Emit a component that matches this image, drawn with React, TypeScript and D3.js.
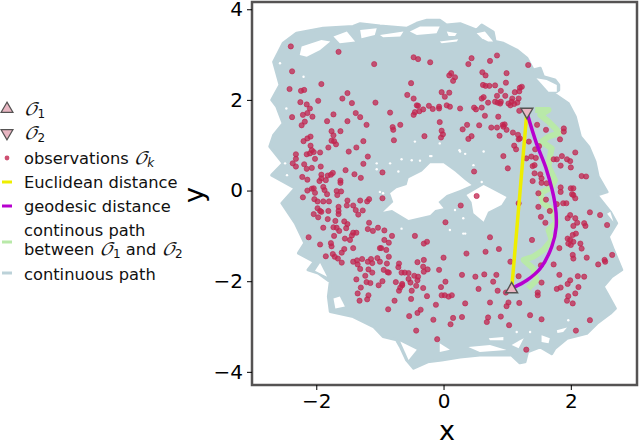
import React, { useRef, useEffect } from "react";
import * as d3 from "d3";

type Pt = [number, number];

const xTicks = [-2, 0, 2];
const yTicks = [-4, -2, 0, 2, 4];

// start and end observation
const o1: Pt = [1.07, -2.18];
const o2: Pt = [1.31, 1.74];

const geodesic: Pt[] = [
  [1.32, 1.67], [1.46, 1.04], [1.62, 0.45], [1.75, -0.28], [1.77, -0.8],
  [1.7, -1.24], [1.52, -1.72], [1.31, -1.98], [1.1, -2.14],
];

const pathBetween: Pt[] = [
  [1.44, 1.78], [1.65, 1.78], [1.52, 1.67], [1.65, 1.52], [1.78, 1.34], [1.81, 1.26],
  [1.65, 1.19], [1.54, 1.08], [1.7, 0.93], [1.67, 0.75], [1.65, 0.53], [1.75, 0.23],
  [1.7, 0.08], [1.52, -0.06], [1.57, -0.28], [1.67, -0.39], [1.78, -0.69], [1.65, -0.87],
  [1.7, -1.09], [1.57, -1.31], [1.41, -1.46], [1.26, -1.53], [1.41, -1.72], [1.46, -1.98],
  [1.33, -2.16],
];

// outer edge of the continuous path, read clockwise
const pathOuter: Pt[] = [
  [-2.52, 3.25], [-2.31, 3.47], [-1.89, 3.58], [-1.42, 3.62], [-1.31, 3.68], [-1, 3.63],
  [-0.58, 3.58], [-0.42, 3.69], [-0.26, 3.76], [-0.06, 3.76], [0.05, 3.65], [0.26, 3.68],
  [0.52, 3.54], [0.6, 3.65], [0.78, 3.5], [0.81, 3.29], [0.94, 3.25], [1.15, 3.1],
  [1.31, 2.92], [1.41, 2.66], [1.52, 2.7], [1.57, 2.51], [1.75, 2.44], [1.81, 2.33],
  [1.81, 2.22], [1.73, 2.14], [1.96, 1.92], [2.07, 1.63], [2.15, 1.19], [2.28, 0.97],
  [2.38, 0.64], [2.43, 0.31], [2.57, -0.03], [2.41, -0.1], [2.62, -0.47], [2.72, -0.72],
  [2.59, -1.02], [2.67, -1.31], [2.8, -1.75], [2.64, -1.9], [2.51, -2.12], [2.57, -2.27],
  [2.7, -2.6], [2.62, -2.71], [2.41, -2.93], [2.25, -3.15], [1.94, -3.26], [1.75, -3.48],
  [1.7, -3.6], [1.52, -3.45], [1.32, -3.56], [1.28, -3.78], [1.2, -3.8], [1.07, -3.63],
  [0.57, -3.63], [0.26, -3.67], [-0.03, -3.74], [-0.25, -3.78], [-0.47, -3.92], [-0.58, -3.74],
  [-0.68, -3.44], [-0.74, -3.29], [-0.95, -3.22], [-1.1, -3], [-1.42, -2.78], [-1.78, -2.67],
  [-1.81, -2.34], [-1.78, -2.01], [-1.97, -1.82], [-2.13, -1.75], [-2.03, -1.57], [-2.28, -1.38],
  [-2.18, -1.16], [-2.33, -0.72], [-2.54, -0.28], [-2.33, 0.05], [-2.7, 0.34], [-2.52, 0.6],
  [-2.73, 0.97], [-2.67, 1.22], [-2.52, 1.48], [-2.62, 1.85], [-2.7, 2], [-2.57, 2.33],
  [-2.67, 2.84],
];

// areas the path never crossed
const pathHoles: Pt[][] = [
  [[-0.55, 0.27], [-0.34, 0.42], [-0.21, 0.6], [0, 0.6], [0.18, 0.42], [0.34, 0.23], [0.44, 0.12],
   [0.26, 0.01], [0.05, -0.1], [-0.08, -0.25], [0, -0.39], [-0.13, -0.43], [-0.21, -0.54],
   [-0.55, -0.65], [-0.81, -0.43], [-0.95, -0.47], [-0.79, -0.25], [-0.84, -0.06], [-0.74, 0.05], [-0.58, 0.12]],
  [[0.36, -0.1], [0.63, 0.12], [0.73, 0.05], [0.99, -0.14], [0.91, -0.32], [0.7, -0.47], [0.63, -0.69], [0.47, -0.5], [0.44, -0.25]],
  [[-2.26, 2.99], [-2.23, 3.18], [-1.92, 3.32], [-1.78, 3.29], [-1.94, 3.1], [-2.15, 2.95]],
  [[-1.73, 3.4], [-1.52, 3.51], [-1.39, 3.29], [-1.63, 3.25]],
  [[-1.31, 3.54], [-1.05, 3.58], [-1.08, 3.43], [-1.29, 3.36]],
  [[-1, 3.43], [-0.63, 3.51], [-0.68, 3.4], [-0.95, 3.38]],
  [[-0.53, 3.51], [-0.37, 3.62], [-0.06, 3.62], [-0.11, 3.47], [-0.42, 3.43]],
  [[0.52, 3.47], [0.65, 3.51], [0.78, 3.29], [0.7, 3.29], [0.6, 3.36]],
  [[0.05, 3.51], [0.21, 3.47], [0.18, 3.41], [0.08, 3.41]],
  [[-0.06, 3.29], [0.23, 3.34], [0.21, 3.29], [-0.03, 3.25]],
  [[1.46, 2.48], [1.62, 2.44], [1.78, 2.33], [1.78, 2.18], [1.65, 2.18]],
  [[0.39, -3.45], [0.73, -3.41], [0.99, -3.52], [0.57, -3.56]],
  [[1.54, -3.19], [1.67, -3.26], [1.65, -3.37], [1.54, -3.34]],
  [[1.78, -3.08], [1.94, -3.02], [1.88, -3.12], [1.79, -3.14]],
  [[0.71, -3.26], [0.94, -3.23], [0.94, -3.3], [0.73, -3.3]],
  [[-0.06, -3.37], [0.1, -3.51], [-0.06, -3.56]],
  [[1.2, -3.3], [1.26, -3.26], [1.18, -3.48], [1.07, -3.41]],
  [[-1.73, -2.38], [-1.63, -2.34], [-1.55, -2.56], [-1.7, -2.6]],
  [[-1.94, -1.6], [-1.83, -1.9], [-2.02, -1.77]],
  [[-0.68, -3.33], [-0.42, -3.51], [-0.55, -3.74]],
  [[2.62, -0.47], [2.67, -0.69], [2.57, -0.51]],
];

// small flecks of white inside the path
const pathGaps: Pt[] = [
  [-0.66, 0.69], [-0.37, 0.66], [-1.05, 0.47], [-0.19, 0.76], [0.25, 0.89], [0.34, 0.81],
  [0.47, 0.56], [0.6, 0.19], [-0.95, -0.06], [-0.45, 1.08], [0.34, -0.95], [-1, -0.03],
  [-0.66, -0.84], [0.18, -0.43], [0.31, -0.61], [0.1, -0.87], [-0.06, 1.04], [-0.71, 0.42],
  [-2.57, 2.81], [-2.2, 2.51], [-0.5, 0.67], [-0.21, 0.76], [-0.84, 0.6], [-1.05, 0.6],
  [-2.47, 1.81], [-2.49, 0.6], [-2.46, 0.34], [0.63, 0.86], [0.26, 0.86], [0.31, -0.95],
  [1.15, -3.12], [1.96, -2.86], [1.36, -3.12],
];

const observations: Pt[] = [
  [-2.4, 3.18], [-1.65, 3.06], [-1.09, 2.79], [-0.47, 2.94], [-0.4, 2.9], [-0.21, 2.83], [-2.38, 2.63],
  [-0.51, 2.37], [-1.92, 2.35], [-2.42, 2.24], [-2.24, 2.2], [-2.19, 2.22], [-1.51, 2.15], [-0.57, 2.11],
  [-0.47, 2.03], [-1.59, 2.03], [-1.97, 1.98], [-2.25, 1.95], [-1.44, 1.93], [-1.07, 1.94], [-2.15, 1.9],
  [-2.1, 1.81], [-0.42, 1.88], [-0.4, 1.87], [-0.23, 1.87], [-0.32, 1.79], [-0.38, 1.75], [-0.45, 1.73],
  [-0.47, 1.67], [-0.17, 1.8], [-0.07, 1.85], [-0.07, 1.81], [-2.14, 1.71], [-2.21, 1.67], [-2.06, 1.63],
  [-2.38, 1.62], [-1.73, 1.68], [-1.38, 1.71], [-1.31, 1.62], [-0.84, 1.72], [-1.83, 1.53], [-1.51, 1.53],
  [-2.18, 1.52], [-2.23, 1.44], [-1.21, 1.45], [-0.68, 1.45], [-0.8, 1.4], [-0.79, 1.34], [-0.06, 1.51],
  [-1.76, 1.31], [-1.62, 1.31], [-1.73, 1.22], [-0.3, 1.2], [-0.78, 1.11], [-2.09, 1.19], [-2.14, 1.15],
  [-2.2, 1.09], [-1.76, 1.1], [-1.72, 1.09], [-1.69, 1.02], [-1.26, 1.09], [-1.81, 0.95], [-1.37, 0.95],
  [-2.09, 0.99], [-2.07, 0.89], [-1.49, 0.86], [-1.94, 0.84], [-2.32, 0.8], [-2.15, 0.8], [-2.1, 0.82],
  [-2.04, 0.85], [-2.02, 0.7], [-1.19, 0.75], [-2.32, 0.7], [-2.37, 0.6], [-2.19, 0.58], [-1.26, 0.59],
  [-2.32, 0.53], [-2.15, 0.48], [-2.07, 0.5], [-1.93, 0.53], [-1.54, 0.45], [-0.96, 0.4], [-2.22, 0.3],
  [-1.92, 0.35], [-1.92, 0.27], [-1.82, 0.33], [-1.77, 0.35], [-1.74, 0.39], [-2.14, 0.24], [-1.95, 0.21],
  [-1.85, 0.23], [-1.4, 0.36], [-1.3, 0.28], [-1.62, 0.22], [-1.62, 0.17], [-1.89, 0.08], [-1.87, 0.01],
  [-2.07, 0.04], [-2.14, 0], [-2.04, 0.05], [-2.02, -0.05], [-1.83, -0.08], [-1.68, -0.01], [-1.61, -0.02],
  [-1.67, -0.1], [-2.21, -0.15], [-2.03, -0.19], [-1.98, -0.24], [-1.89, -0.24], [-1.8, -0.24], [-1.51, -0.22],
  [-1.52, -0.33], [-1.31, -0.22], [-1.2, -0.24], [-1.17, -0.19], [-0.96, -0.17], [-1.42, -0.33], [-1.65, -0.36],
  [-1.38, -0.43], [-1.27, -0.44], [-1.65, -0.45], [-1.98, -0.39], [-1.94, -0.45], [-1.92, -0.47], [-1.81, -0.45],
  [-2.04, -0.52], [-1.65, -0.52], [-1.34, -0.53], [-1.97, -0.59], [-1.82, -0.63],
  [-1.17, -0.71], [-1.7, -0.67], [-1.56, -0.68], [-1.51, -0.74], [-1.73, -0.81], [-1.89, -0.82], [-1.68, -0.82],
  [-1.53, -0.83], [-1.64, -0.89], [-1.19, -0.85], [-1.11, -0.89], [-1.03, -0.82], [-0.93, -0.88], [-1.42, -0.93],
  [-1.37, -0.93], [-1.44, -0.99], [-1.72, -1], [-2.12, -1.03], [-1.55, -1.06], [-1.47, -1.09], [-0.81, -1],
  [-0.45, -1], [-0.93, -1.09], [-0.86, -1.15], [-0.31, -1.17], [-0.26, -1.13], [-1.77, -1.16], [-1.94, -1.19],
  [-1.76, -1.23], [-1.42, -1.27], [-1.56, -1.29], [-1.6, -1.37], [-1, -1.27], [-0.98, -1.27], [-0.9, -1.31],
  [-1.85, -1.45], [-1.74, -1.4], [-1.71, -1.46], [-1.66, -1.5], [-1.6, -1.59], [-0.86, -1.46], [-1.04, -1.49],
  [-1.14, -1.51], [-1.28, -1.51], [-1.36, -1.54], [-1.42, -1.57], [-1.35, -1.63], [-1.19, -1.57], [-1.12, -1.6],
  [-1, -1.57], [-0.89, -1.61], [-0.7, -1.61], [-0.71, -1.69], [-0.41, -1.58], [-0.31, -1.53], [-0.32, -1.68],
  [-0.31, -1.79], [-0.25, -1.74], [-0.07, -1.75], [-1.31, -1.73], [-1.18, -1.74], [-1.12, -1.81], [-0.94, -1.75],
  [-0.88, -1.8], [-0.86, -1.81], [-0.66, -1.81], [-0.61, -1.81], [-0.55, -1.82], [-0.46, -1.88], [-0.4, -1.9],
  [-1.23, -1.88], [-1.37, -1.96], [-0.55, -1.95], [-0.41, -1.98], [-0.52, -2.03], [-0.75, -2.02], [-0.96, -2],
  [-1.21, -2.02], [-1.15, -2.04], [-1.02, -2.09], [-0.65, -2.06], [-0.65, -2.09], [-0.68, -2.14], [-0.7, -2.21],
  [-0.43, -2.1], [-0.32, -2.15], [-0.04, -2.13], [-1.3, -2.14], [-0.5, -2.21], [-1.35, -2.27], [-1.18, -2.31],
  [-1.2, -2.4], [-1.32, -2.43], [-0.77, -2.43], [-0.51, -2.39], [-0.26, -2.33], [-0.12, -2.52], [-0.87, -2.62],
  [-0.36, -2.63], [-0.41, -2.7], [-0.54, -2.77], [-0.16, -2.85], [-0.43, -3.09], [-0.1, -3.28],
  [0.62, 2.33], [0.66, 2.31], [0.72, 2.31], [0.81, 2.32], [0.98, 2.38], [1.23, 2.29], [1.2, 2.27], [0.15, 2.42],
  [-0.03, 2.17], [0.09, 2.16], [0.02, 2.07], [0.9, 2.2], [0.84, 2.09], [0.97, 2.09], [1.12, 2.17], [1.19, 2.19],
  [0.6, 2.03], [0.63, 2.06], [1.08, 2.03], [1.18, 2.03], [0.7, 1.94], [0.81, 1.96], [0.85, 1.94], [0.89, 1.92],
  [0.9, 1.96], [1.02, 1.92], [1.05, 1.88], [1.07, 1.96], [1.11, 1.91], [1.16, 1.94], [0.48, 1.83], [0.51, 1.79],
  [0.6, 1.83], [0.26, 1.81], [0.05, 1.88], [0.1, 1.85], [1.19, 1.76], [0.65, 1.65], [0.86, 1.63], [0.37, 1.45],
  [0.56, 1.44], [0.3, 1.35], [0.75, 1.39], [0.84, 1.39], [0.93, 1.45], [0.96, 1.46], [0.94, 1.41], [0.99, 1.34],
  [1.09, 1.28], [1.17, 1.23], [1.2, 1.15], [0.88, 1.21], [0.44, 1.2], [0.39, 1.14], [-0.03, 1.32], [-0.01, 1.24],
  [-0.04, 1.17], [1.47, 1.45], [1.61, 1.34], [1.89, 1.37], [1.89, 1.3], [1.83, 1.13], [1.34, 1.08], [1.18, 1.13],
  [1.11, 0.99], [1.14, 0.91], [1.44, 0.91], [1.5, 0.98], [0.94, 0.76], [2.07, 0.84], [1.86, 0.76], [1.3, 0.71],
  [1.38, 0.75], [1.45, 0.72], [1.73, 0.69], [1.78, 0.69], [1.94, 0.69], [1.99, 0.65], [1.84, 0.55], [2, 0.51],
  [1.01, 0.49], [0.48, 0.42], [1.4, 0.54], [1.43, 0.56], [1.43, 0.38], [1.52, 0.36], [2.17, 0.32], [2.24, 0.31],
  [1.54, 0.27], [1.4, 0.21], [1.54, 0.17], [1.62, 0.16], [1.84, 0.07], [1.84, -0.03], [2, 0.05], [2.04, 0.05],
  [2.02, -0.08], [2.04, -0.1], [2.07, -0.17], [1.49, -0.06], [0.52, -0.12], [1.61, -0.2], [1.78, -0.3], [1.88, -0.28],
  [1.93, -0.28], [1.18, -0.28], [0.27, -0.33], [1.49, -0.36], [1.67, -0.45], [2.3, -0.48], [2.46, -0.54], [1.99, -0.54],
  [1.95, -0.61], [2.07, -0.61], [1.53, -0.58], [1.6, -0.71], [0.03, -0.7], [2.1, -0.71], [2.21, -0.72], [2.23, -0.78],
  [2.04, -0.78], [2.57, -0.76], [0.73, -1.03], [2.08, -0.95], [2.03, -0.98], [1.95, -1.06], [1.99, -1.09], [2.04, -1.13],
  [1.96, -1.17], [2, -1.2], [2.15, -1.17], [1.39, -1.09], [0.87, -1.29], [0.66, -1.35], [0.36, -1.39], [1.82, -1.27],
  [2.17, -1.28], [2.03, -1.42], [2.04, -1.5], [2.25, -1.48], [2.65, -1.42], [0, -1.48], [1.05, -1.57], [1.53, -1.65],
  [1.73, -1.63], [2.43, -1.63], [2.53, -1.53], [2.54, -1.57], [0.29, -1.86], [0.5, -1.9], [0.64, -1.85], [0.83, -1.86],
  [1.18, -1.89], [1.82, -1.86], [2.11, -1.89], [2.21, -1.9], [1.99, -1.98], [1.95, -2.06], [0.03, -2.01], [0.78, -2.01],
  [1.54, -2.03], [0.55, -2.17], [0.85, -2.21], [0.98, -2.25], [1.78, -2.17], [1.84, -2.14], [2.12, -2.13], [2.07, -2.27],
  [1.48, -2.25], [1.48, -2.31], [1.96, -2.33], [-0.03, -2.31], [0.02, -2.31], [0.08, -2.34], [0.13, -2.31], [0.34, -2.49],
  [0.73, -2.47], [1.02, -2.47], [0.99, -2.55], [1.19, -2.48], [1.94, -2.43], [2.03, -2.49], [1.36, -2.75], [0.15, -2.81],
  [0.29, -2.79], [0.7, -2.8], [0.9, -2.78], [1.54, -2.84], [0.11, -2.95], [0.68, -2.9], [1.03, -2.97], [2.3, -2.86],
  [2.08, -3.09], [1.3, -3.51],
  [0.84, 2.98], [0.44, 2.92], [0.73, 2.86], [0.39, 2.79], [1.33, 2.77], [0.61, 2.61], [0.99, 2.59], [0.66, 2.54],
  [0.12, 2.59], [0.09, 2.54], [0.18, 2.5],
];

const GREY = "#bcd2d9";
const GREEN = "#b9e9a9";
const RED = "#c2244f";
const YELLOW = "#eeee00";
const PURPLE = "#b700cf";
const FRAME = "#555353";
const PINK = "#e8b6c2";
const SANS = "DejaVu Sans";
const SCRIPT_O = "\u{1D4AA}";

const App = () => {
  const svgRef = useRef<SVGSVGElement>(null);

  useEffect(() => {
    const svg = d3.select(svgRef.current);
    svg.selectAll("*").remove();

    const margin = { top: 2, right: 3, bottom: 59, left: 252 };
    const width = 640;
    const height = 444;

    const xScale = d3.scaleLinear().domain([-3.01, 3.04]).range([margin.left, width - margin.right]);
    const yScale = d3.scaleLinear().domain([-4.29, 4.16]).range([height - margin.bottom, margin.top]);

    const line = d3.line<Pt>().x((d) => xScale(d[0])).y((d) => yScale(d[1]));

    // continuous path as a filled band with its holes
    svg.append("path")
      .attr("d", line.curve(d3.curveLinearClosed)(pathOuter))
      .attr("fill", GREY)
      .attr("stroke", GREY)
      .attr("stroke-width", 3)
      .attr("stroke-linejoin", "round");

    svg.append("g").selectAll("path").data(pathHoles).enter().append("path")
      .attr("d", (d) => line.curve(d3.curveLinearClosed)(d))
      .attr("fill", "#fff");

    svg.append("g").selectAll("circle").data(pathGaps).enter().append("circle")
      .attr("cx", (d) => xScale(d[0]))
      .attr("cy", (d) => yScale(d[1]))
      .attr("r", 1.2)
      .attr("fill", "#fff");

    svg.append("path")
      .attr("d", line.curve(d3.curveLinear)(pathBetween))
      .attr("fill", "none")
      .attr("stroke", GREEN)
      .attr("stroke-width", 6)
      .attr("stroke-linejoin", "round");

    svg.append("g").selectAll("circle").data(observations).enter().append("circle")
      .attr("cx", (d) => xScale(d[0]))
      .attr("cy", (d) => yScale(d[1]))
      .attr("r", 2.6)
      .attr("fill", RED)
      .attr("fill-opacity", 0.75)
      .attr("stroke", RED)
      .attr("stroke-opacity", 0.8)
      .attr("stroke-width", 0.8);

    svg.append("path")
      .attr("d", line.curve(d3.curveLinear)([o1, o2]))
      .attr("fill", "none")
      .attr("stroke", YELLOW)
      .attr("stroke-width", 3.5);

    svg.append("path")
      .attr("d", line.curve(d3.curveCatmullRom)(geodesic))
      .attr("fill", "none")
      .attr("stroke", PURPLE)
      .attr("stroke-width", 3.5);

    const triangle = d3.symbol().type(d3.symbolTriangle).size(62);
    const addMarker = (cx: number, cy: number, down: boolean) => {
      svg.append("path")
        .attr("d", triangle())
        .attr("transform", `translate(${cx},${cy})${down ? " rotate(180)" : ""}`)
        .attr("fill", PINK)
        .attr("stroke", FRAME)
        .attr("stroke-width", 1.4);
    };
    addMarker(xScale(o1[0]), yScale(o1[1]), false);
    addMarker(xScale(o2[0]), yScale(o2[1]), true);

    // frame
    svg.append("rect")
      .attr("x", margin.left)
      .attr("y", margin.top)
      .attr("width", width - margin.left - margin.right)
      .attr("height", height - margin.top - margin.bottom)
      .attr("fill", "none")
      .attr("stroke", FRAME)
      .attr("stroke-width", 2.5);

    const tickText = (d: d3.NumberValue) => d3.format("d")(d as number).replace("-", "−");
    const xAxis = svg.append("g")
      .attr("transform", `translate(0,${height - margin.bottom})`)
      .call(d3.axisBottom(xScale).tickValues(xTicks).tickFormat(tickText).tickSize(5).tickPadding(4));
    const yAxis = svg.append("g")
      .attr("transform", `translate(${margin.left},0)`)
      .call(d3.axisLeft(yScale).tickValues(yTicks).tickFormat(tickText).tickSize(5).tickPadding(4));
    xAxis.select(".domain").remove();
    yAxis.select(".domain").remove();
    [xAxis, yAxis].forEach((a) => {
      a.selectAll("text").attr("font-family", SANS).attr("font-size", 20).attr("fill", "#000");
      a.selectAll("line").attr("stroke", "#000");
    });

    svg.append("text")
      .attr("x", 447).attr("y", 440)
      .attr("text-anchor", "middle")
      .attr("font-family", SANS).attr("font-size", 27)
      .text("x");
    svg.append("text")
      .attr("transform", "translate(203,195) rotate(-90)")
      .attr("text-anchor", "middle")
      .attr("font-family", SANS).attr("font-size", 27)
      .text("y");

    // legend
    const legend = svg.append("g").attr("font-family", SANS).attr("font-size", 16.3).attr("fill", "#111");
    const label = (y: number, parts: (string | [string, string])[]) => {
      const t = legend.append("text").attr("x", 24).attr("y", y);
      let shifted = 0;
      parts.forEach((p) => {
        if (typeof p === "string") {
          t.append("tspan").attr("dy", -shifted).text(p);
          shifted = 0;
        } else {
          t.append("tspan").attr("dy", -shifted).attr("font-family", "DejaVu Math TeX Gyre, Noto Sans, DejaVu Sans").attr("font-style", "italic").attr("font-size", 17).text(p[0]);
          t.append("tspan").attr("dy", 3).attr("font-size", 12).attr("font-style", p[1] === "k" ? "italic" : "normal").text(p[1]);
          shifted = 3;
        }
      });
    };
    const handle = (y: number, color: string) => {
      legend.append("line").attr("x1", 2).attr("x2", 12).attr("y1", y).attr("y2", y)
        .attr("stroke", color).attr("stroke-width", 3);
    };
    legend.append("path").attr("d", triangle()).attr("transform", "translate(7,109)")
      .attr("fill", PINK).attr("stroke", FRAME).attr("stroke-width", 1.2);
    legend.append("path").attr("d", triangle()).attr("transform", "translate(7,133) rotate(180)")
      .attr("fill", PINK).attr("stroke", FRAME).attr("stroke-width", 1.2);
    legend.append("circle").attr("cx", 7).attr("cy", 158).attr("r", 2.4).attr("fill", RED).attr("fill-opacity", 0.8);
    handle(182, YELLOW);
    handle(206, PURPLE);
    handle(242, GREEN);
    handle(273, GREY);
    label(115, [[SCRIPT_O, "1"]]);
    label(139, [[SCRIPT_O, "2"]]);
    label(164, ["observations ", [SCRIPT_O, "k"]]);
    label(188, ["Euclidean distance"]);
    label(212, ["geodesic distance"]);
    label(236, ["continous path"]);
    label(255, ["between ", [SCRIPT_O, "1"], " and ", [SCRIPT_O, "2"]]);
    label(280, ["continuous path"]);
  }, []);

  return <svg ref={svgRef} width={640} height={444} style={{ position: "absolute", left: 0, top: 0, background: "#fff" }}></svg>;
};

export default App;
